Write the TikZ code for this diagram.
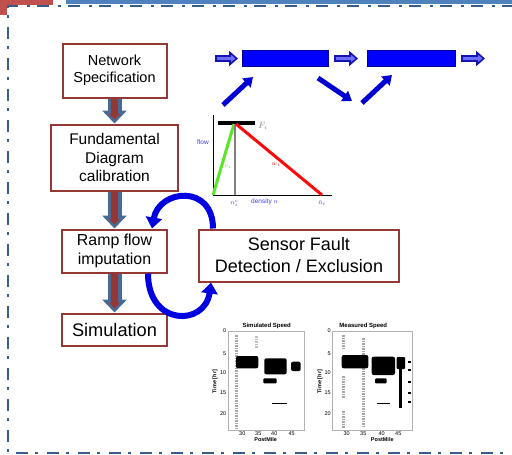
\documentclass[tikz,border=0pt]{standalone}
\usepackage{fontspec}
\setmainfont{Liberation Sans}
\usepackage{amsmath}
\usepackage{tikz}
\usetikzlibrary{arrows.meta,positioning,calc}
\definecolor{boxred}{RGB}{149,55,53}
\definecolor{topred}{RGB}{192,80,77}
\definecolor{topblue}{RGB}{79,129,189}
\definecolor{frameblue}{RGB}{56,93,138}
\definecolor{steel}{RGB}{74,106,150}
\definecolor{linkblue}{RGB}{0,0,255}
\definecolor{linknavy}{RGB}{0,0,150}
\definecolor{arrownavy}{RGB}{20,20,180}
\definecolor{arrowlight}{RGB}{110,110,255}
\definecolor{rampblue}{RGB}{0,0,210}
\definecolor{loopblue}{RGB}{0,0,225}
\definecolor{fdgreen}{RGB}{90,230,40}
\definecolor{fdred}{RGB}{255,10,10}
\definecolor{fdblue}{RGB}{60,60,235}
\tikzset{
block/.style = {draw=boxred, line width=2pt, fill=white, rectangle, align=center, inner sep=1pt},
tmp/.style = {coordinate},
link/.style = {draw=linknavy, fill=linkblue, line width=1pt, rectangle, minimum height=16pt, minimum width=86pt},
flowdown/.style = {line width=14pt, draw=steel, -{Triangle[width=24pt,length=13pt]},
  postaction={draw=boxred, line width=7pt, -{Triangle[width=11pt,length=6pt]}, shorten >=4pt, shorten <=0pt}},
hollow/.style = {line width=7pt, draw=arrownavy, -{Triangle[width=15pt,length=9pt]},
  postaction={draw=arrowlight, line width=2.5pt, -{Triangle[width=7pt,length=4.5pt]}, shorten >=2.5pt, shorten <=1.5pt}},
ramparrow/.style = {line width=5pt, draw=rampblue, -{Triangle[width=12pt,length=9pt]}},
loopback/.style = {line width=6pt, draw=loopblue, -{Triangle[width=16pt,length=11pt]}},
frame/.style = {line width=2.5pt, draw=frameblue, dash pattern=on 12pt off 7pt on 3pt off 9pt},
fdlabel/.style = {inner sep=0pt, font=\fontsize{6.5}{7}\selectfont},
plotframe/.style = {draw=gray!60, line width=0.5pt},
ptitle/.style = {inner sep=0pt, font=\bfseries\fontsize{6}{7}\selectfont},
tick/.style = {inner sep=0pt, font=\fontsize{5.5}{6}\selectfont},
dotcol/.style = {line width=2.5pt, draw=gray!70, dash pattern=on 1.5pt off 1pt}
}
\begin{document}
\begin{tikzpicture}[x=1pt, y=1pt, node distance=87pt]
    \useasboundingbox (0,0) rectangle (512,-455);
    % slide frame
    \fill [topred] (0,0) rectangle (53,-5);
    \fill [topred] (0,0) rectangle (7,-15);
    \fill [topblue] (66,0) rectangle (512,-4);
    \draw [frame] (514,-6) -- (8,-6) -- (8,-453) -- (514,-453);

    % workflow boxes
    \node [block, minimum width=104pt, minimum height=54pt, font=\fontsize{14.5}{17.5}\selectfont] (spec) at (114.5,-70.5) {Network\\Specification};
    \node [block, below of=spec, node distance=87pt, minimum width=127pt, minimum height=66pt, font=\fontsize{15.5}{18.5}\selectfont] (fdc) {Fundamental\\Diagram\\calibration};
    \node [block, below of=fdc, node distance=93.5pt, minimum width=105pt, minimum height=43pt, font=\fontsize{15.9}{18.3}\selectfont] (ramp) {Ramp flow\\imputation};
    \node [block, below of=ramp, node distance=78.5pt, minimum width=105pt, minimum height=32pt, font=\fontsize{18.2}{20}\selectfont] (sim) {Simulation};
    \node [block, right of=ramp, node distance=184.5pt, yshift=-4.5pt, minimum width=200pt, minimum height=52pt, font=\fontsize{18}{22}\selectfont] (sensor) {Sensor Fault\\Detection / Exclusion};

    \draw [flowdown] (spec) -- (fdc);
    \draw [flowdown] (fdc) -- (ramp);
    \draw [flowdown] (ramp) -- (sim);

    \draw [loopback] ([xshift=15pt]sensor.north west) .. controls +(0,45) and +(7,39) .. ([xshift=-16pt]ramp.north east);
    \draw [loopback] ([xshift=-20pt]ramp.south east) .. controls +(0,-53) and +(-6,-44) .. ([xshift=13pt]sensor.south west);

    % freeway links
    \node [link] (link1) at (285.5,-58.5) {};
    \node [link, right of=link1, node distance=126pt, minimum width=88pt] (link2) {};
    \node [tmp, left of=link1, node distance=70.5pt] (src) {};
    \node [tmp, right of=link2, node distance=73.5pt] (sink) {};
    \draw [hollow] (src) -- ([xshift=-4pt]link1.west);
    \draw [hollow] ([xshift=5pt]link1.east) -- ([xshift=-9pt]link2.west);
    \draw [hollow] ([xshift=5pt]link2.east) -- (sink);
    \node [tmp] (onramp1) at (223,-105) {};
    \node [tmp] (offramp1) at (352,-101) {};
    \node [tmp] (onramp2) at (362,-103) {};
    \draw [ramparrow] (onramp1) -- ([xshift=11pt,yshift=-10pt]link1.south west);
    \draw [ramparrow] ([xshift=-11pt,yshift=-11pt]link1.south east) -- (offramp1);
    \draw [ramparrow] (onramp2) -- ([xshift=25pt,yshift=-8pt]link2.south west);

    % fundamental diagram
    \draw [black, line width=0.8pt] (213,-115) -- (213,-195) -- (332,-195);
    \draw [line width=4pt] (218,-123) -- (255,-123);
    \draw [fdgreen, line width=3pt] (213,-195) -- (234,-124);
    \draw [gray, line width=1.2pt] (235,-124) -- (235,-195);
    \draw [fdred, line width=3pt] (236,-124) -- (322,-195);
    \node [fdlabel, text=fdblue] (flowlbl) at (203,-142) {flow};
    \node [fdlabel, text=gray, font=\fontsize{9}{9}\selectfont] (caplbl) at (263,-126) {$F_i$};
    \node [fdlabel, text=fdgreen] (vlbl) at (228,-167) {$v_i$};
    \node [fdlabel, text=fdred] (wlbl) at (276,-165) {$w_i$};
    \node [fdlabel, text=fdblue] (nclbl) at (234.5,-203.5) {$n_i^c$};
    \node [fdlabel, text=fdblue, anchor=west] (denlbl) at (251,-201.5) {density $n$};
    \node [fdlabel, text=fdblue] (nbarlbl) at (322,-203) {$\bar{n}_i$};

    % simulated speed
    \draw [plotframe] (228,-331) rectangle (304,-430);
    \node [ptitle] (simtitle) at (266.7,-326) {Simulated Speed};
    \foreach \t/\y in {0/331,5/354,10/372.5,15/393,20/414}
        \node [tick, anchor=east] at (226.5,-\y) {\t};
    \foreach \t/\x in {30/242.3,35/258.3,40/274.3,45/291.7}
        \node [tick] at (\x,-433.5) {\t};
    \node [tick, rotate=90, font=\bfseries\fontsize{5.5}{6}\selectfont] (simtime) at (215,-381.7) {Time [hr]};
    \node [tick, font=\bfseries\fontsize{5.5}{6}\selectfont] (simpm) at (265.7,-440) {PostMile};
    \draw [dotcol] (236.7,-335) -- (236.7,-428);
    \draw [dotcol, gray!50] (256.7,-336) -- (256.7,-348);
    \fill [rounded corners=2pt] (236,-356) rectangle (258.3,-368.3);
    \fill [rounded corners=2pt] (264.3,-358.3) rectangle (286.7,-374.3);
    \fill [rounded corners=2pt] (291,-361.7) rectangle (300.7,-371);
    \fill [rounded corners=1pt] (263.3,-378.3) rectangle (276.7,-383.3);
    \draw [line width=1.5pt] (271.7,-403.3) -- (286.7,-403.3);

    % measured speed
    \draw [plotframe] (332,-331) rectangle (412,-430);
    \node [ptitle] (meastitle) at (363.3,-326) {Measured Speed};
    \foreach \t/\y in {0/331,5/354,10/372.5,15/393,20/414}
        \node [tick, anchor=east] at (331,-\y) {\t};
    \foreach \t/\x in {30/346.7,35/363.3,40/381.7,45/398.3}
        \node [tick] at (\x,-433.5) {\t};
    \node [tick, rotate=90, font=\bfseries\fontsize{5.5}{6}\selectfont] (meastime) at (320,-381.7) {Time [hr]};
    \node [tick, font=\bfseries\fontsize{5.5}{6}\selectfont] (measpm) at (382.3,-440) {PostMile};
    \draw [dotcol] (343.3,-335) -- (343.3,-350);
    \draw [dotcol] (343.3,-376) -- (343.3,-398);
    \draw [dotcol] (343.3,-411) -- (343.3,-428);
    \draw [dotcol] (363.3,-338) -- (363.3,-428);
    \fill [rounded corners=2pt] (341.7,-355) rectangle (368.3,-368.3);
    \fill [rounded corners=2pt] (371.7,-356.7) rectangle (395,-375);
    \fill [rounded corners=1pt] (396.7,-357) rectangle (405,-369);
    \fill (399.3,-360) rectangle (402.3,-408.3);
    \fill [rounded corners=1pt] (375,-378.3) rectangle (386.7,-383.3);
    \draw [line width=1.5pt] (376.7,-403.3) -- (390,-403.3);
    \foreach \y in {362,370,382,393,402}
        \draw [line width=1.2pt] (408,-\y) -- (411,-\y);
\end{tikzpicture}
\end{document}
